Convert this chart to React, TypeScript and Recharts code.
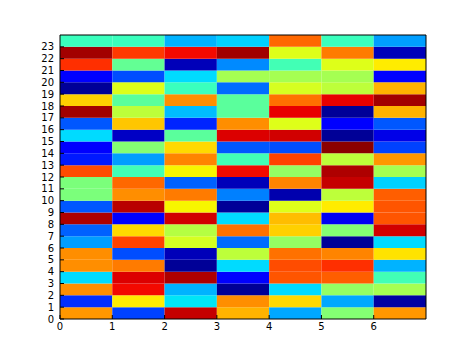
import React from 'react';
import { ComposedChart, XAxis, YAxis, Scatter, ReferenceArea } from 'recharts';

// Values (0..1, jet colormap) per column, listed from row 0 (bottom) to row 23 (top)
const col0 = [0.75, 0.17, 0.76, 0.34, 0.76, 0.76, 0.28, 0.22, 0.96, 0.21, 0.5, 0.5, 0.83, 0.15, 0.12, 0.34, 0.21, 0.97, 0.69, 0.02, 0.12, 0.86, 0.97, 0.42];
const col1 = [0.19, 0.66, 0.9, 0.92, 0.78, 0.2, 0.84, 0.68, 0.12, 0.95, 0.76, 0.8, 0.43, 0.28, 0.51, 0.06, 0.7, 0.58, 0.46, 0.62, 0.2, 0.47, 0.85, 0.42];
const col2 = [0.94, 0.35, 0.3, 0.96, 0.02, 0.05, 0.61, 0.57, 0.93, 0.65, 0.78, 0.22, 0.65, 0.77, 0.68, 0.46, 0.16, 0.31, 0.76, 0.42, 0.34, 0.05, 0.9, 0.3];
const col3 = [0.72, 0.76, 0.02, 0.12, 0.34, 0.58, 0.23, 0.79, 0.34, 0.02, 0.25, 0.05, 0.9, 0.43, 0.21, 0.92, 0.76, 0.46, 0.46, 0.23, 0.55, 0.26, 0.97, 0.33];
const col4 = [0.29, 0.68, 0.34, 0.82, 0.83, 0.79, 0.53, 0.69, 0.71, 0.62, 0.04, 0.77, 0.53, 0.84, 0.2, 0.93, 0.62, 0.91, 0.79, 0.61, 0.55, 0.43, 0.62, 0.8];
const col5 = [0.51, 0.29, 0.53, 0.81, 0.86, 0.77, 0.02, 0.51, 0.1, 0.66, 0.58, 0.94, 0.96, 0.58, 0.99, 0.02, 0.12, 0.02, 0.91, 0.58, 0.55, 0.62, 0.78, 0.42];
const col6 = [0.75, 0.03, 0.55, 0.43, 0.3, 0.67, 0.34, 0.93, 0.82, 0.82, 0.81, 0.33, 0.55, 0.75, 0.19, 0.09, 0.21, 0.72, 0.97, 0.72, 0.12, 0.66, 0.05, 0.28];

const columns = [col0, col1, col2, col3, col4, col5, col6];
const xTicks = [0, 1, 2, 3, 4, 5, 6];
const yTicks = Array.from({ length: 24 }, (_, i) => i);

function interp(v: number, xs: number[], ys: number[]) {
  for (let i = 0; i < xs.length - 1; i++) {
    if (v <= xs[i + 1]) {
      const t = (v - xs[i]) / (xs[i + 1] - xs[i]);
      return ys[i] + t * (ys[i + 1] - ys[i]);
    }
  }
  return ys[ys.length - 1];
}

function jet(v: number) {
  const r = interp(v, [0, 0.35, 0.66, 0.89, 1], [0, 0, 1, 1, 0.5]);
  const g = interp(v, [0, 0.125, 0.375, 0.64, 0.91, 1], [0, 0, 1, 1, 0, 0]);
  const b = interp(v, [0, 0.11, 0.34, 0.65, 1], [0.5, 1, 1, 0, 0]);
  const h = (c: number) => Math.round(Math.max(0, Math.min(1, c)) * 255);
  return `rgb(${h(r)},${h(g)},${h(b)})`;
}

const cells = columns.flatMap((col, c) => col.map((v, r) => ({ c, r, v, x: c + 0.5, y: r + 0.5 })));

const tickStyle = { fontFamily: 'DejaVu Sans', fontSize: 10, fill: '#000' };

export default function App() {
  return (
    <ComposedChart
      width={466}
      height={339}
      margin={{ top: 27, right: 48, bottom: 8, left: 22 }}
      style={{ background: '#fff' }}
    >
      <XAxis
        type="number"
        dataKey="x"
        domain={[0, 7]}
        ticks={xTicks}
        allowDataOverflow
        interval={0}
        height={20}
        tick={tickStyle}
        tickSize={-4}
        tickMargin={8}
        tickLine={{ stroke: '#000' }}
        axisLine={false}
      />
      <YAxis
        type="number"
        dataKey="y"
        domain={[0, 24]}
        ticks={yTicks}
        allowDataOverflow
        interval={0}
        width={30}
        tick={tickStyle}
        tickSize={-4}
        tickMargin={10}
        tickLine={{ stroke: '#000' }}
        axisLine={false}
      />
      {cells.map((d) => (
        <ReferenceArea
          key={`${d.c}-${d.r}`}
          x1={d.c}
          x2={d.c + 1}
          y1={d.r}
          y2={d.r + 1}
          fill={jet(d.v)}
          fillOpacity={1}
          stroke="none"
          ifOverflow="visible"
        />
      ))}
      <ReferenceArea x1={0} x2={7} y1={0} y2={24} fill="none" stroke="#000" strokeWidth={1} ifOverflow="visible" />
      <Scatter data={cells} isAnimationActive={false} shape={() => <g />} />
    </ComposedChart>
  );
}
